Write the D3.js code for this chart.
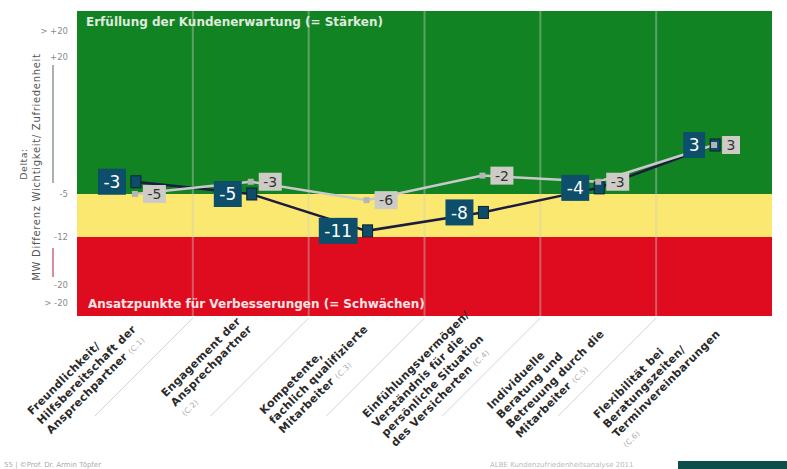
<!DOCTYPE html>
<html lang="de">
<head>
<meta charset="UTF-8"/>
<title>Delta Wichtigkeit / Zufriedenheit</title>
<script src="https://d3js.org/d3.v7.min.js"></script>
<style>
    body { margin: 0; background: #fff; }
    svg text { font-family: "DejaVu Sans", Verdana, sans-serif; }
</style>
</head>
<body>
<script>
// data
var categories = ["C.1", "C.2", "C.3", "C.4", "C.5", "C.6"];
var categoryLines = [
    ["Freundlichkeit/", "Hilfsbereitschaft der", "Ansprechpartner (C.1)"],
    ["Engagement der", "Ansprechpartner", "(C.2)"],
    ["Kompetente,", "fachlich qualifizierte", "Mitarbeiter (C.3)"],
    ["Einfühlungsvermögen/", "Verständnis für die", "persönliche Situation", "des Versicherten (C.4)"],
    ["Individuelle", "Beratung und", "Betreuung durch die", "Mitarbeiter (C.5)"],
    ["Flexibilität bei", "Beratungszeiten/", "Terminvereinbarungen", "(C.6)"]
];
var deltaDark = [-3, -5, -11, -8, -4, 3];
var deltaLight = [-5, -3, -6, -2, -3, 3];
var scaleTicks = [25, 20, -5, -12, -20, -23];
var scaleTickLabels = ["> +20", "+20", "-5", "-12", "-20", "> -20"];
var topText = "Erfüllung der Kundenerwartung (= Stärken)";
var bottomText = "Ansatzpunkte für Verbesserungen (= Schwächen)";

var w = 787, h = 469;
var plotLeft = 77, plotRight = 772, plotTop = 11, plotBottom = 316;

var svg = d3.select("body").append("svg")
    .attr("width", w)
    .attr("height", h);

var x = d3.scaleBand().domain(categories).range([plotLeft, plotRight]).padding(0);
var cx = function(i) { return x(categories[i]) + x.bandwidth() / 2; };

// piecewise scale, the original axis is not linear
var y = d3.scaleLinear()
    .domain([-20, -12, -5, 3, 20])
    .range([285, 237, 194, 145, 57]);

// coloured zones
svg.append("rect").attr("x", plotLeft).attr("y", plotTop)
    .attr("width", plotRight - plotLeft).attr("height", y(-5) - plotTop)
    .attr("fill", "rgb(18,131,34)");
svg.append("rect").attr("x", plotLeft).attr("y", y(-5))
    .attr("width", plotRight - plotLeft).attr("height", y(-12) - y(-5))
    .attr("fill", "rgb(250,232,112)");
svg.append("rect").attr("x", plotLeft).attr("y", y(-12))
    .attr("width", plotRight - plotLeft).attr("height", plotBottom - y(-12))
    .attr("fill", "rgb(222,12,30)");

// column dividers
var dividers = categories.slice(1).map(function(c) { return x(c); });
svg.selectAll(".divider").data(dividers).enter().append("line")
    .attr("x1", function(d) { return d; }).attr("x2", function(d) { return d; })
    .attr("y1", plotTop).attr("y2", plotBottom)
    .attr("stroke", "rgba(205,205,205,0.4)")
    .attr("stroke-width", 2);

// diagonal separators below the chart
svg.selectAll(".sep").data(dividers).enter().append("line")
    .attr("x1", function(d) { return d; }).attr("y1", plotBottom + 2)
    .attr("x2", function(d) { return d - 98; }).attr("y2", plotBottom + 100)
    .attr("stroke", "#d4d4d4").attr("stroke-width", 1);

svg.append("text").attr("x", 86).attr("y", 26)
    .attr("font-size", 12).attr("font-weight", "bold")
    .attr("fill", "#dfeadf").text(topText);
svg.append("text").attr("x", 88).attr("y", 308)
    .attr("font-size", 12).attr("font-weight", "bold")
    .attr("fill", "#ffe4e4").text(bottomText);

// left scale
var axis = svg.append("g").attr("transform", "translate(68,0)")
    .call(d3.axisLeft(y).tickValues(scaleTicks)
        .tickFormat(function(d, i) { return scaleTickLabels[i]; })
        .tickSize(0).tickPadding(0));
axis.select(".domain").remove();
axis.selectAll("text").attr("font-size", 8.5).attr("fill", "#8a8a8a")
    .attr("font-family", "DejaVu Sans");

svg.append("line").attr("x1", 53).attr("x2", 53)
    .attr("y1", y(20) + 8).attr("y2", y(-5) - 11)
    .attr("stroke", "#a9b2a9").attr("stroke-width", 2);
svg.append("line").attr("x1", 53).attr("x2", 53)
    .attr("y1", y(-12) + 11).attr("y2", y(-20) - 8)
    .attr("stroke", "#d98c9c").attr("stroke-width", 2);

svg.append("text").attr("transform", "translate(27,164) rotate(-90)")
    .attr("text-anchor", "middle").attr("font-size", 9.5).attr("fill", "#555")
    .attr("letter-spacing", 0.5)
    .text("Delta:");
svg.append("text").attr("transform", "translate(40,167) rotate(-90)")
    .attr("text-anchor", "middle").attr("font-size", 10).attr("fill", "#555")
    .attr("letter-spacing", 0.7)
    .text("MW Differenz Wichtigkeit/ Zufriedenheit");

// lines
var line = d3.line()
    .x(function(d, i) { return cx(i); })
    .y(function(d) { return y(d); });

svg.append("path").datum(deltaDark).attr("d", line)
    .attr("fill", "none").attr("stroke", "#1c1c40").attr("stroke-width", 2.5);
svg.append("path").datum(deltaLight).attr("d", line)
    .attr("fill", "none").attr("stroke", "#c9c9c9").attr("stroke-width", 2.5);

// markers
svg.selectAll(".mDark").data(deltaDark).enter().append("rect")
    .attr("x", function(d, i) { return cx(i) - 4; })
    .attr("y", function(d) { return y(d) - 6; })
    .attr("width", 10).attr("height", 12)
    .attr("fill", "#0e4d6a").attr("stroke", "#0a2233").attr("stroke-width", 1);
svg.selectAll(".mLight").data(deltaLight).enter().append("rect")
    .attr("x", function(d, i) { return cx(i) - 3; })
    .attr("y", function(d) { return y(d) - 3; })
    .attr("width", 6).attr("height", 6)
    .attr("fill", "#b5b5b5");

// labels light series
deltaLight.forEach(function(v, i) {
    var g = svg.append("g");
    var t = g.append("text").attr("font-size", 14).attr("fill", "#333")
        .attr("text-anchor", "middle").attr("dy", "0.36em").text(v);
    var tw = t.node().getComputedTextLength();
    var bw = tw + 9;
    g.insert("rect", "text").attr("x", 0).attr("y", -9)
        .attr("width", bw).attr("height", 18).attr("fill", "#cdcbc6");
    t.attr("x", bw / 2);
    g.attr("transform", "translate(" + (cx(i) + 8) + "," + y(v) + ")");
});

// labels dark series
deltaDark.forEach(function(v, i) {
    var g = svg.append("g");
    var t = g.append("text").attr("font-size", 17).attr("fill", "#fff")
        .attr("text-anchor", "middle").attr("dy", "0.36em").text(v);
    var tw = t.node().getComputedTextLength();
    var bw = tw + 11;
    g.insert("rect", "text").attr("x", -bw).attr("y", -13)
        .attr("width", bw).attr("height", 26).attr("fill", "#0d4e6b");
    t.attr("x", -bw / 2);
    g.attr("transform", "translate(" + (cx(i) - 9) + "," + y(v) + ")");
});

// category labels, rotated, lines left aligned
categoryLines.forEach(function(lines, i) {
    var g = svg.append("g")
        .attr("transform", "translate(" + (cx(i) - 1) + ",327) rotate(-45)");
    var n = lines.length;
    var texts = lines.map(function(s, j) {
        var t = g.append("text").attr("y", (j - (n - 1) / 2) * 13.5 + 4)
            .attr("font-size", 11).attr("font-weight", "bold").attr("fill", "#2a2a2a")
            .attr("letter-spacing", 0.3);
        var m = s.match(/^(.*?)\s*(\(C\.\d\))$/);
        if (m) {
            if (m[1]) t.append("tspan").text(m[1] + " ");
            t.append("tspan").attr("font-size", 7.5).attr("font-weight", "normal")
                .attr("fill", "#aaa").text(m[2]);
        } else {
            t.text(s);
        }
        return t;
    });
    var maxW = d3.max(texts, function(t, j) {
        return /^\(C/.test(lines[j]) ? 0 : t.node().getComputedTextLength();
    });
    texts.forEach(function(t) { t.attr("x", -maxW); });
});

// footer
svg.append("text").attr("x", 4).attr("y", 467).attr("font-size", 7)
    .attr("fill", "#aaa").text("55 | ©Prof. Dr. Armin Töpfer");
svg.append("text").attr("x", 490).attr("y", 467).attr("font-size", 7)
    .attr("fill", "#bbb").text("ALBE Kundenzufriedenheitsanalyse 2011");
svg.append("rect").attr("x", 678).attr("y", 461).attr("width", 109).attr("height", 8)
    .attr("fill", "#0d4d4a");
</script>
</body>
</html>
